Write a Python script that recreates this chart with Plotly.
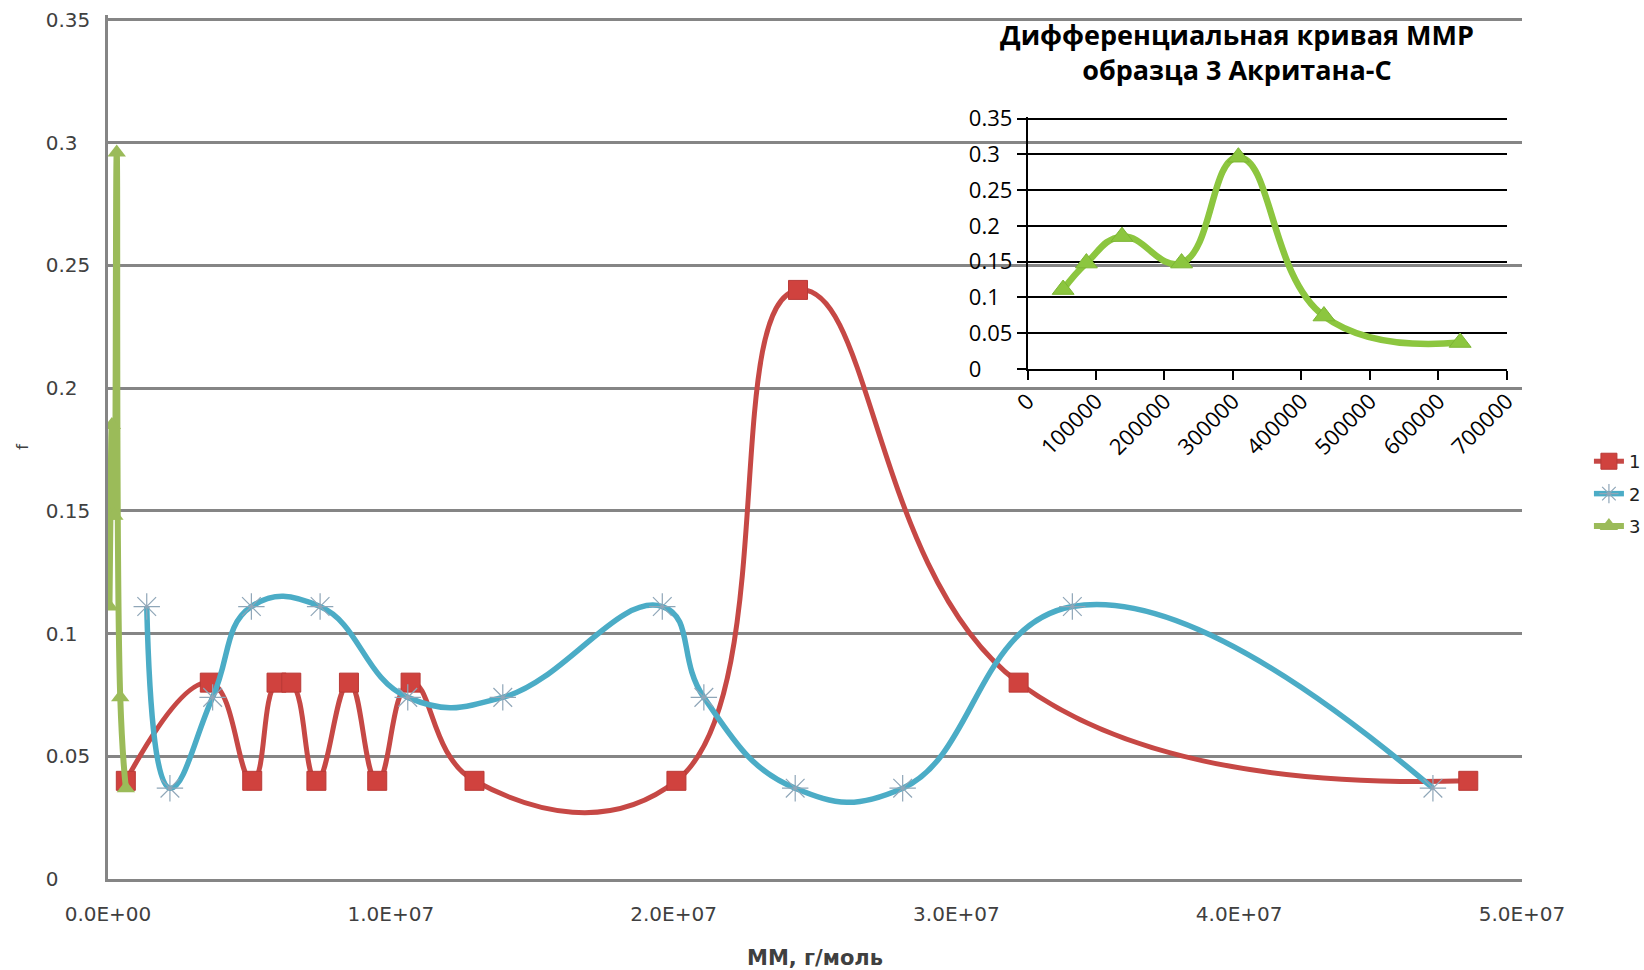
import plotly.graph_objects as go

# ---- data ----
mm1 = [6.3e5, 3.6e6, 5.1e6, 5.96e6, 6.48e6, 7.37e6, 8.52e6, 9.52e6, 1.07e7, 1.296e7, 2.01e7, 2.44e7, 3.22e7, 4.81e7]
f1 = [0.04, 0.08, 0.04, 0.08, 0.08, 0.04, 0.08, 0.04, 0.08, 0.04, 0.04, 0.24, 0.08, 0.04]

mm2 = [1.37e6, 2.19e6, 3.7e6, 5.07e6, 7.5e6, 1.06e7, 1.396e7, 1.96e7, 2.107e7, 2.43e7, 2.81e7, 3.41e7, 4.685e7]
f2 = [0.111, 0.037, 0.074, 0.111, 0.111, 0.074, 0.074, 0.111, 0.074, 0.037, 0.037, 0.111, 0.037]

mm3 = [52000, 86000, 138000, 225000, 308000, 433000, 632000]
f3 = [0.111, 0.148, 0.185, 0.148, 0.296, 0.074, 0.037]

series_names = ["1", "2", "3"]

main_x_ticks = [0, 1e7, 2e7, 3e7, 4e7, 5e7]
main_x_labels = ["0.0E+00", "1.0E+07", "2.0E+07", "3.0E+07", "4.0E+07", "5.0E+07"]
y_ticks = [0, 0.05, 0.1, 0.15, 0.2, 0.25, 0.3, 0.35]
FS = "\u2007"
PS = "\u2008"
y_labels = ["0" + PS + FS + FS, "0.05", "0.1" + FS, "0.15", "0.2" + FS, "0.25", "0.3" + FS, "0.35"]
inset_x_ticks = [0, 100000, 200000, 300000, 400000, 500000, 600000, 700000]
inset_x_labels = ["0", "100000", "200000", "300000", "400000", "500000", "600000", "700000"]

inset_title = "Дифференциальная кривая ММР<br>образца 3 Акритана-С"
x_title = "ММ, г/моль"
y_title = "f"

MAIN_FONT = "DejaVu Sans"
INSET_FONT = "Open Sans"
SMOOTH = 1.3

fig = go.Figure()

fig.add_trace(go.Scatter(
    x=mm1, y=f1, name=series_names[0], mode="lines+markers", legendgroup="g1",
    line=dict(color="#C64845", width=5, shape="spline", smoothing=SMOOTH),
    marker=dict(symbol="square", size=19, color="#D0423E", line=dict(color="#B93A37", width=1)),
))
fig.add_trace(go.Scatter(
    x=mm2, y=f2, name=series_names[1], mode="lines+markers", legendgroup="g2",
    line=dict(color="#4BACC6", width=5.5, shape="spline", smoothing=SMOOTH),
    marker=dict(symbol="asterisk-open", size=22, color="#8FA6B8", line=dict(color="#8FA6B8", width=1.2)),
))
fig.add_trace(go.Scatter(
    x=mm3, y=f3, name=series_names[2], mode="lines+markers", legendgroup="g3",
    line=dict(color="#9BBB59", width=6, shape="spline", smoothing=SMOOTH),
    marker=dict(symbol="triangle-up", size=16, color="#9BBB59"),
))
# inset
fig.add_trace(go.Scatter(
    x=mm3, y=f3, name=series_names[2], mode="lines+markers", showlegend=False,
    xaxis="x2", yaxis="y2",
    line=dict(color="#8CC63F", width=6.5, shape="spline", smoothing=SMOOTH),
    marker=dict(symbol="triangle-up", size=19, color="#8CC63F", line=dict(color="#7CB534", width=1)),
))

grid_gray = "#858585"
text_gray = "#404040"

fig.update_layout(
    width=1644, height=970,
    margin=dict(l=108, r=122, t=15, b=91, autoexpand=False),
    paper_bgcolor="white", plot_bgcolor="rgba(0,0,0,0)",
    font=dict(family=MAIN_FONT, size=20, color=text_gray),
    showlegend=True,
    legend=dict(
        xref="container", yref="container", x=0.9665, y=0.4907, xanchor="left", yanchor="middle",
        font=dict(family=MAIN_FONT, size=18, color="#202020"),
        bgcolor="rgba(0,0,0,0)", itemwidth=30, tracegroupgap=6,
    ),
    xaxis=dict(
        domain=[0, 1], range=[0, 5e7], tickvals=main_x_ticks, ticktext=main_x_labels,
        showgrid=False, zeroline=False, showline=True, linecolor=grid_gray, linewidth=2.5,
        ticks="", ticklabelstandoff=15, automargin=False,
        title=dict(text=x_title, font=dict(family=MAIN_FONT, size=21, color=text_gray, weight="bold"), standoff=26),
    ),
    yaxis=dict(
        domain=[0, 1], range=[0, 0.352], tickvals=y_ticks, ticktext=y_labels,
        showgrid=True, gridcolor=grid_gray, gridwidth=2.5, zeroline=False,
        showline=True, linecolor=grid_gray, linewidth=2.5, ticks="", ticklabelstandoff=11,
        automargin=False,
        title=dict(text=y_title, font=dict(family=MAIN_FONT, size=16, color=text_gray), standoff=14),
    ),
    xaxis2=dict(
        domain=[0.6503, 0.9892], anchor="y2", range=[0, 700000], tickvals=inset_x_ticks, ticktext=inset_x_labels,
        tickangle=-45, ticks="outside", ticklen=9, tickwidth=1.5, tickcolor="black",
        showline=True, linecolor="black", linewidth=1.5, showgrid=False, zeroline=False, automargin=False,
        tickfont=dict(family=INSET_FONT, size=22, color="black"),
    ),
    yaxis2=dict(
        domain=[0.5903, 0.8818], anchor="x2", range=[0, 0.352], tickvals=y_ticks, ticktext=y_labels,
        ticks="outside", ticklen=9, tickwidth=1.5, tickcolor="black", automargin=False,
        showline=True, linecolor="black", linewidth=1.5, showgrid=True, gridcolor="black", gridwidth=1.5,
        zeroline=False, tickfont=dict(family=INSET_FONT, size=22, color="black"),
    ),
    annotations=[dict(
        text=inset_title, xref="paper", yref="paper", x=0.7985, y=0.9572,
        xanchor="center", yanchor="middle", showarrow=False,
        font=dict(family=INSET_FONT, size=27, color="black", weight="bold"),
    )],
)

fig.write_html("out.html", config={"displayModeBar": False},
               post_script="document.body.style.margin='0px';")
